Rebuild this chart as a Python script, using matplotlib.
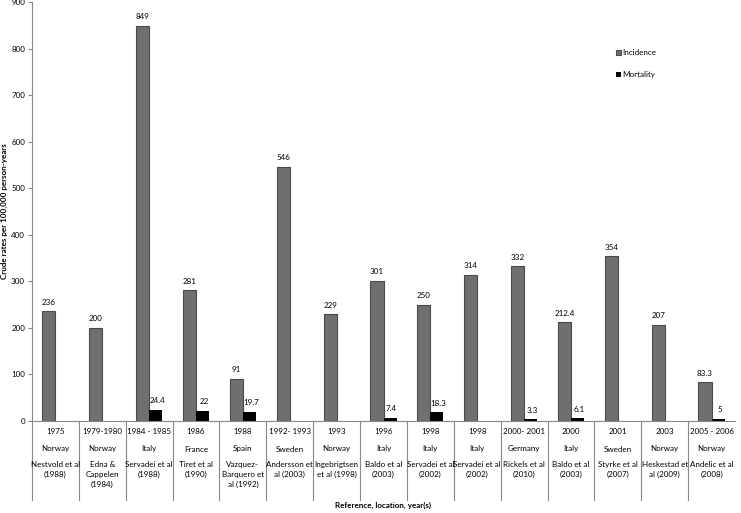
import matplotlib
matplotlib.use('Agg')
import matplotlib.pyplot as plt
import numpy as np

plt.rcParams['font.family'] = ['Lato', 'DejaVu Sans']

years = ['1975', '1979-1980', '1984 - 1985', '1986', '1988', '1992- 1993', '1993',
         '1996', '1998', '1998', '2000- 2001', '2000', '2001', '2003', '2005 - 2006']
countries = ['Norway', 'Norway', 'Italy', 'France', 'Spain', 'Sweden', 'Norway',
             'Italy', 'Italy', 'Italy', 'Germany', 'Italy', 'Sweden', 'Norway', 'Norway']
refs = ['Nestvold et al\n(1988)', 'Edna &\nCappelen\n(1984)', 'Servadei et al\n(1988)',
        'Tiret et al\n(1990)', 'Vazquez-\nBarquero et\nal (1992)', 'Andersson et\nal (2003)',
        'Ingebrigtsen\net al (1998)', 'Baldo et al\n(2003)', 'Servadei et al\n(2002)',
        'Servadei et al\n(2002)', 'Rickels et al\n(2010)', 'Baldo et al\n(2003)',
        'Styrke et al\n(2007)', 'Heskestad et\nal (2009)', 'Andelic et al\n(2008)']
incidence = [236, 200, 849, 281, 91, 546, 229, 301, 250, 314, 332, 212.4, 354, 207, 83.3]
mortality = [None, None, 24.4, 22, 19.7, None, None, 7.4, 18.3, None, 3.3, 6.1, None, None, 5]

fs = 5.8
fig = plt.figure(figsize=(7.41, 5.13), dpi=100)
ax = fig.add_axes([32/741, (513-421)/513, 703/741, 419/513])

x = np.arange(len(years))
w = 0.28
ax.bar(x - w/2, incidence, w, color='#6f6f6f', edgecolor='#4a4a4a',
       linewidth=0.8, label='Incidence')
mort_vals = [m if m is not None else 0 for m in mortality]
ax.bar(x + w/2, mort_vals, w, color='black', label='Mortality')

for xi, v in zip(x, incidence):
    ax.text(xi - w/2, v + 12, f'{v:g}', ha='center', va='bottom', fontsize=fs)
for xi, v in zip(x, mortality):
    if v is not None:
        ax.text(xi + w/2 + 0.03, v + 12, f'{v:g}', ha='center', va='bottom', fontsize=fs)

ax.set_xlim(-0.5, len(years) - 0.5)
ax.set_ylim(0, 900)
ax.set_yticks(range(0, 901, 100))
ax.tick_params(axis='y', labelsize=fs, length=3, color='#888888', pad=2)
ax.set_xticks([])
for s in ['top', 'right']:
    ax.spines[s].set_visible(False)
ax.spines['left'].set_color('#888888')
ax.spines['bottom'].set_color('#888888')

tr = ax.get_xaxis_transform()
h = 419.0
for xi in range(len(years)):
    ax.text(xi, -11/h, years[xi], transform=tr, ha='center', va='center', fontsize=fs)
    ax.text(xi, -28/h, countries[xi], transform=tr, ha='center', va='center', fontsize=fs)
    ax.text(xi, -40/h, refs[xi], transform=tr, ha='center', va='top', fontsize=fs,
            linespacing=1.5)
for b in [-0.5] + [i + 0.5 for i in range(len(years) - 1)]:
    ax.plot([b, b], [0, -79/h], transform=tr, color='#888888', lw=0.8, clip_on=False)

ax.set_ylabel('Crude rates per 100,000 person-years', fontsize=fs, fontweight='bold')
ax.yaxis.set_label_coords(-24/703, 0.5)
fig.text(383/741, (513-505)/513, 'Reference, location, year(s)', ha='center',
         va='center', fontsize=fs, fontweight='bold')

ax.legend(loc='upper left', bbox_to_anchor=(0.82, 0.905), frameon=False, fontsize=fs,
          handlelength=0.6, handleheight=0.6, handletextpad=0.15, labelspacing=1.9)

fig.savefig('out.png', dpi=100)
